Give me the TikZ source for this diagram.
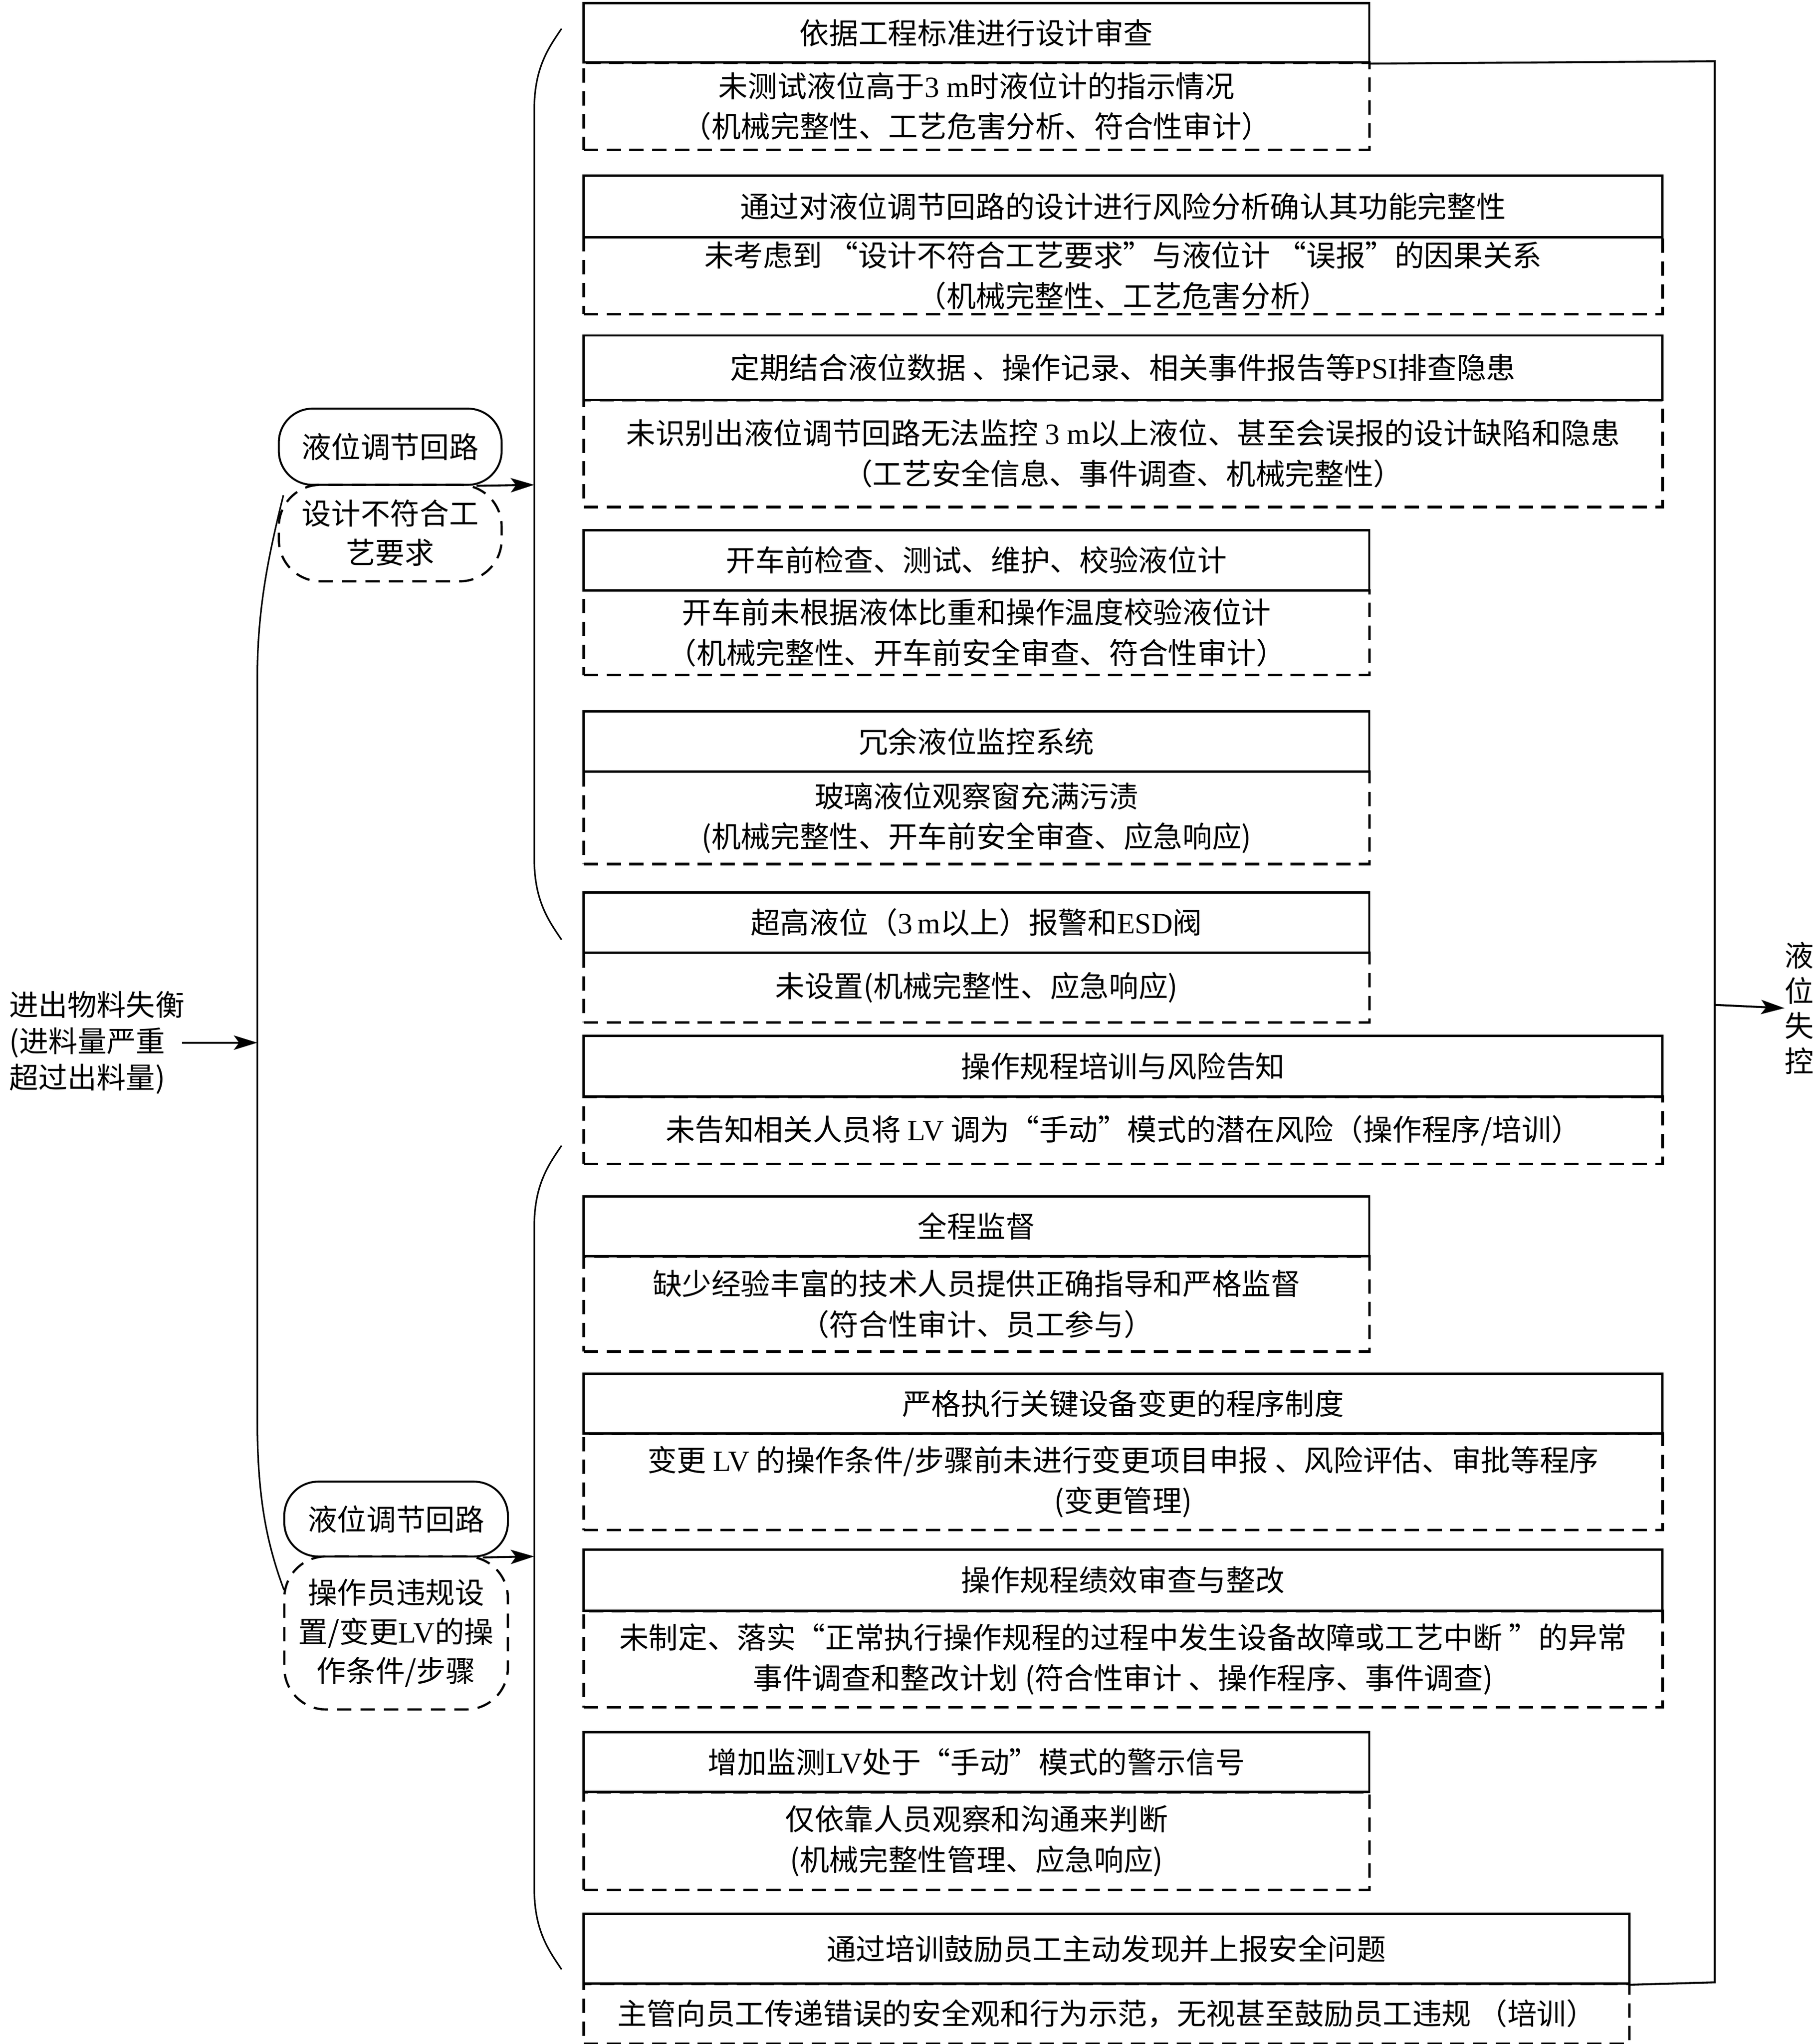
\documentclass[tikz,border=0pt]{standalone}
\usepackage{fontspec}
\setmainfont{Noto Sans CJK SC}
\newfontfamily\tmsfont{Liberation Serif}
\newcommand\latn[1]{{\tmsfont #1}}
\usetikzlibrary{arrows.meta}
\newcommand\pairbox[7]{%
  \node[dbox, minimum width={#5pt-447pt}, minimum height={#4pt-#3pt}] (#1b) at (447,#3) {#7};
  \node[tbox, minimum width={#5pt-447pt}, minimum height={#3pt-#2pt}] (#1t) at (447,#2) {#6};}
\begin{document}
\begin{tikzpicture}[x=1pt,y=-1pt,
  txt/.style={font=\fontsize{22.6}{31}\selectfont, inner sep=0pt, align=center},
  tbox/.style={txt, draw, line width=1.8pt, anchor=north west},
  dbox/.style={tbox, line width=2pt, dash pattern=on 11pt off 6.5pt},
  pill/.style={txt, draw, line width=1.5pt, rounded corners=26pt, minimum width=171pt,
               font=\fontsize{22.6}{30}\selectfont},
  dpill/.style={pill, rounded corners=32pt, line width=1.7pt, dash pattern=on 11pt off 7pt},
  conn/.style={line width=1.5pt},
  arr/.style={conn, -{Stealth[length=18pt,width=11pt,inset=4pt]}},
  brace/.style={line width=1.2pt}]
\fill[white] (0,0) rectangle (1393,1568.3);
\useasboundingbox (0,0) rectangle (1393,1568.3);

% boxes
\pairbox{n1}{1.5}{47}{114}{1050}{依据工程标准进行设计审查}
  {未测试液位高于\latn{3 m}时液位计的指示情况\\（机械完整性、工艺危害分析、符合性审计）}
\pairbox{n2}{134}{181}{240}{1275}{通过对液位调节回路的设计进行风险分析确认其功能完整性}
  {未考虑到 “设计不符合工艺要求”与液位计 “误报”的因果关系\\（机械完整性、工艺危害分析）}
\pairbox{n3}{256.5}{306}{388}{1275}{定期结合液位数据 、操作记录、相关事件报告等\latn{PSI}排查隐患}
  {未识别出液位调节回路无法监控 \latn{3 m}以上液位、甚至会误报的设计缺陷和隐患\\（工艺安全信息、事件调查、机械完整性）}
\pairbox{n4}{406}{452}{517}{1050}{开车前检查、测试、维护、校验液位计}
  {开车前未根据液体比重和操作温度校验液位计\\（机械完整性、开车前安全审查、符合性审计）}
\pairbox{n5}{545}{591}{662}{1050}{冗余液位监控系统}
  {玻璃液位观察窗充满污渍\\(机械完整性、开车前安全审查、应急响应)}
\pairbox{n6}{684}{730}{783.5}{1050}{超高液位（\latn{3\,m}以上）报警和\latn{ESD}阀}
  {未设置(机械完整性、应急响应)}
\pairbox{n7}{794}{840.5}{892}{1275}{操作规程培训与风险告知}
  {未告知相关人员将 \latn{LV} 调为“手动”模式的潜在风险（操作程序/培训）}
\pairbox{n8}{917}{963}{1036}{1050}{全程监督}
  {缺少经验丰富的技术人员提供正确指导和严格监督\\（符合性审计、员工参与）}
\pairbox{n9}{1053}{1099}{1173}{1275}{严格执行关键设备变更的程序制度}
  {变更 \latn{LV} 的操作条件/步骤前未进行变更项目申报 、风险评估、审批等程序\\(变更管理)}
\pairbox{n10}{1188}{1235}{1309}{1275}{操作规程绩效审查与整改}
  {未制定、落实“正常执行操作规程的过程中发生设备故障或工艺中断 ”的异常\\事件调查和整改计划 (符合性审计 、操作程序、事件调查)}
\pairbox{n11}{1328}{1374}{1449}{1050}{增加监测\latn{LV}处于“手动”模式的警示信号}
  {仅依靠人员观察和沟通来判断\\(机械完整性管理、应急响应)}
\pairbox{n12}{1467.5}{1521}{1567}{1249.5}{通过培训鼓励员工主动发现并上报安全问题}
  {主管向员工传递错误的安全观和行为示范，无视甚至鼓励员工违规 （培训）}

% left pills
\node[dpill, minimum height=74pt] (q1) at (299.5,409) {设计不符合工\\艺要求};
\node[pill, minimum height=58.5pt] (p1) at (299.5,342.75) {液位调节回路};
\node[dpill, minimum height=117.4pt, minimum width=171.6pt] (q2) at (304,1252.9) {操作员违规设\\置/变更\latn{LV}的操\\作条件/步骤};
\node[pill, minimum height=57.4pt, minimum width=171.6pt] (p2) at (304,1165.5) {液位调节回路};

% source and outcome
\node[txt, anchor=west, align=left, font=\fontsize{22.4}{28}\selectfont] (src) at (7,800)
  {进出物料失衡\\(进料量严重\\超过出料量)};
\node[txt, font=\fontsize{22.4}{27}\selectfont] (out) at (1381,773.5) {液\\位\\失\\控};

% coordinates
\coordinate (trunk) at (197.5,800);
\coordinate (b1) at (410,372);
\coordinate (b2) at (410,1194.2);
\coordinate (rtop) at (1316,47);
\coordinate (rmid) at (1316,771);
\coordinate (rbot) at (1316,1521);

% trunk
\draw[brace] (217.5,380) .. controls (205,430) and (197.5,470) .. (197.5,520)
  -- (trunk) -- (197.5,1090) .. controls (197.5,1150) and (205,1185) .. (218,1220);
% brackets
\draw[brace] (431,22) .. controls (420,38) and (410,53) .. (410,85)
  -- (b1) -- (410,658) .. controls (410,690) and (420,705) .. (431,721);
\draw[brace] (431,879) .. controls (420,895) and (410,910) .. (410,942)
  -- (b2) -- (410,1448) .. controls (410,1480) and (420,1495) .. (431,1511);

% connectors
\draw[arr] ([xshift=-2pt]src.east) -- (trunk);
\draw[arr] ([xshift=-20pt]p1.south east) -- (b1);
\draw[arr] ([xshift=-20pt]p2.south east) -- (b2);
\draw[conn] (n1t.south east) -- (rtop) -- (rmid) -- (rbot) -- (n12t.south east);
\draw[arr] (rmid) -- (out.west);
\end{tikzpicture}
\end{document}
